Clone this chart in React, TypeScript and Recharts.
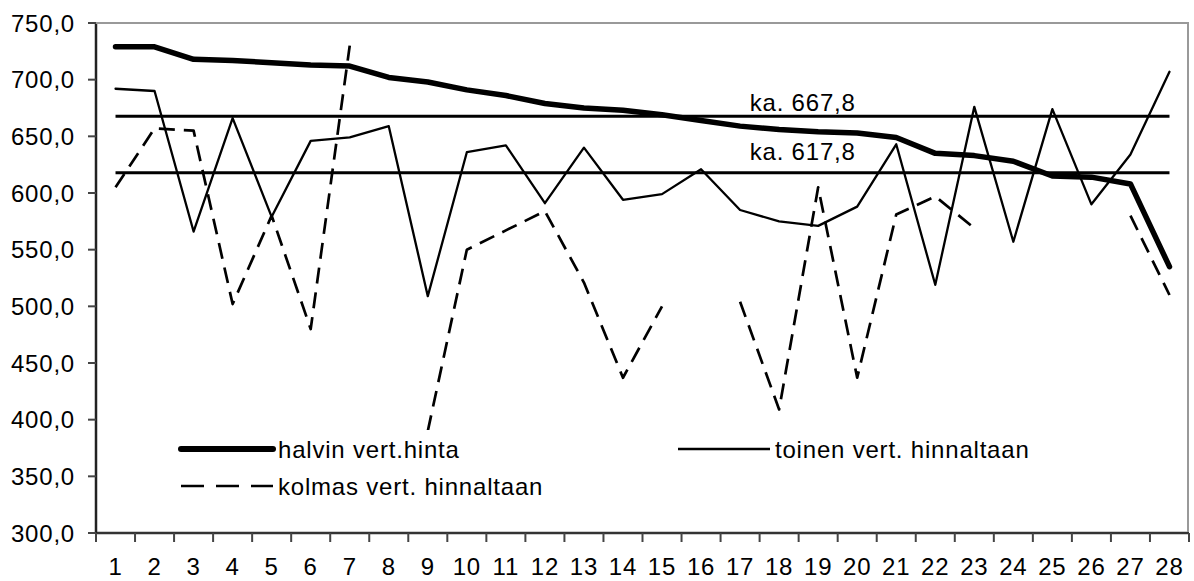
import { LineChart, Line, XAxis, YAxis, ReferenceLine, Legend } from "recharts";

// vertailukohteet 1..28
const CATS = ["1", "2", "3", "4", "5", "6", "7", "8", "9", "10", "11", "12", "13", "14",
  "15", "16", "17", "18", "19", "20", "21", "22", "23", "24", "25", "26", "27", "28"];

const HALVIN = [729, 729, 718, 717, 715, 713, 712, 702, 698, 691, 686, 679, 675, 673,
  669, 664, 659, 656, 654, 653, 649, 635, 633, 628, 615, 614, 608, 535];
const TOINEN = [692, 690, 566, 666, 579, 646, 649, 659, 509, 636, 642, 591, 640, 594,
  599, 621, 585, 575, 571, 588, 643, 519, 676, 557, 674, 590, 634, 707];
// null = ei kolmatta vertailukohdetta
const KOLMAS = [605, 657, 655, 502, 580, 480, 730, null, 390, 550, 567, 584, 521, 437,
  500, null, 504, 409, 605, 437, 581, 597, 569, null, null, null, 580, 510];

const Y_TICKS = [300, 350, 400, 450, 500, 550, 600, 650, 700, 750];
const AVERAGES = [667.8, 617.8];

const W = 1194;
const H = 581;
const MARGIN = { top: 23, right: 5, bottom: 0, left: 0 };
const Y_W = 96;
const X_H = 48;
const PLOT_W = W - MARGIN.left - MARGIN.right - Y_W;
const PLOT_H = H - MARGIN.top - MARGIN.bottom - X_H;
const BAND = PLOT_W / CATS.length;
const FONT = '"Liberation Sans", Arial, sans-serif';

const SERIES = [
  { key: "halvin", name: "halvin vert.hinta", width: 5.5, dash: undefined as string | undefined, legendDash: undefined as string | undefined },
  { key: "toinen", name: "toinen vert. hinnaltaan", width: 2.3, dash: undefined, legendDash: undefined },
  { key: "kolmas", name: "kolmas vert. hinnaltaan", width: 2.7, dash: "16 9", legendDash: "23 12" },
];

const rows = CATS.map((c, i) => ({ cat: c, halvin: HALVIN[i], toinen: TOINEN[i], kolmas: KOLMAS[i] }));

const fmt = (v: number) => v.toFixed(1).replace(".", ",");

function CatTick(props: any) {
  const { x, y, payload, index } = props;
  const half = BAND / 2;
  return (
    <g>
      <line x1={x - half} x2={x - half} y1={y} y2={y + 9} stroke="#444" strokeWidth={2} />
      {index === CATS.length - 1 && (
        <line x1={x + half} x2={x + half} y1={y} y2={y + 9} stroke="#444" strokeWidth={2} />
      )}
      <text x={x} y={y + 42} textAnchor="middle" fill="#000" fontSize={24} fontFamily={FONT} letterSpacing={0.8}>
        {payload.value}
      </text>
    </g>
  );
}

function AvgLabel(props: any) {
  const { viewBox, text, lift } = props;
  if (!viewBox) return null;
  const x = viewBox.x + viewBox.width * 0.652;
  return (
    <text x={x} y={viewBox.y - lift} textAnchor="middle" fill="#000" fontSize={24} fontFamily={FONT} letterSpacing={0.8}>
      {text}
    </text>
  );
}

function LegendBox(props: any) {
  const payload = [...(props.payload ?? [])].sort(
    (a: any, b: any) => SERIES.findIndex((s) => s.key === a.dataKey) - SERIES.findIndex((s) => s.key === b.dataKey)
  );
  return (
    <div style={{ background: "#fff", display: "grid", gridTemplateColumns: "497px auto", fontFamily: FONT, fontSize: 24, letterSpacing: 0.8, color: "#000" }}>
      {payload.map((entry: any) => {
        const s = SERIES.find((d) => d.key === entry.dataKey) ?? SERIES[0];
        return (
          <div key={s.key} style={{ display: "flex", alignItems: "center", height: 37 }}>
            <svg width={98} height={12} style={{ display: "block" }}>
              <line x1={3} x2={95} y1={6} y2={6} stroke="#000" strokeWidth={s.key === "halvin" ? 6 : 2.6}
                strokeDasharray={s.legendDash} strokeLinecap={s.key === "halvin" ? "round" : "butt"} />
            </svg>
            <span style={{ marginLeft: 2, position: "relative", top: 1 }}>{entry.value}</span>
          </div>
        );
      })}
    </div>
  );
}

export default function App() {
  return (
    <div style={{ position: "absolute", left: 0, top: 0, width: W, height: H, background: "#fff" }}>
      <LineChart width={W} height={H} data={rows} margin={MARGIN}>
        <XAxis dataKey="cat" scale="band" height={X_H} interval={0} tickSize={0} tickMargin={0} tickLine={false}
          axisLine={{ stroke: "#333", strokeWidth: 2.5 }} tick={<CatTick />} />
        <YAxis domain={[300, 750]} ticks={Y_TICKS} interval={0} width={Y_W} tickSize={8} tickMargin={13}
          axisLine={{ stroke: "#222", strokeWidth: 2.5 }} tickLine={{ stroke: "#444", strokeWidth: 2 }}
          tick={{ fill: "#000", fontSize: 24, fontFamily: FONT, letterSpacing: 0.8 }} tickFormatter={fmt} />
        {AVERAGES.map((avg, i) => (
          <ReferenceLine key={avg} position="middle" segment={[{ x: CATS[0], y: avg }, { x: CATS[CATS.length - 1], y: avg }]}
            stroke="#000" strokeWidth={3}
            label={<AvgLabel text={`ka. ${fmt(avg)}`} lift={i === 0 ? 5 : 13} />} />
        ))}
        {SERIES.map((s) => (
          <Line key={s.key} type="linear" dataKey={s.key} name={s.name} stroke="#000" strokeWidth={s.width}
            strokeDasharray={s.dash} strokeLinejoin="round" strokeLinecap={s.dash ? "butt" : "round"}
            dot={false} activeDot={false} isAnimationActive={false} />
        ))}
        <Legend layout="horizontal" verticalAlign="middle" align="center" itemSorter={null as any} content={<LegendBox />}
          wrapperStyle={{ left: 178, top: 430, width: 880, height: 74 }} />
      </LineChart>
      <div style={{ position: "absolute", left: MARGIN.left + Y_W, top: MARGIN.top - 1, width: PLOT_W, height: PLOT_H,
        borderTop: "2px solid #999", borderRight: "2px solid #999", boxSizing: "border-box", pointerEvents: "none" }} />
    </div>
  );
}
